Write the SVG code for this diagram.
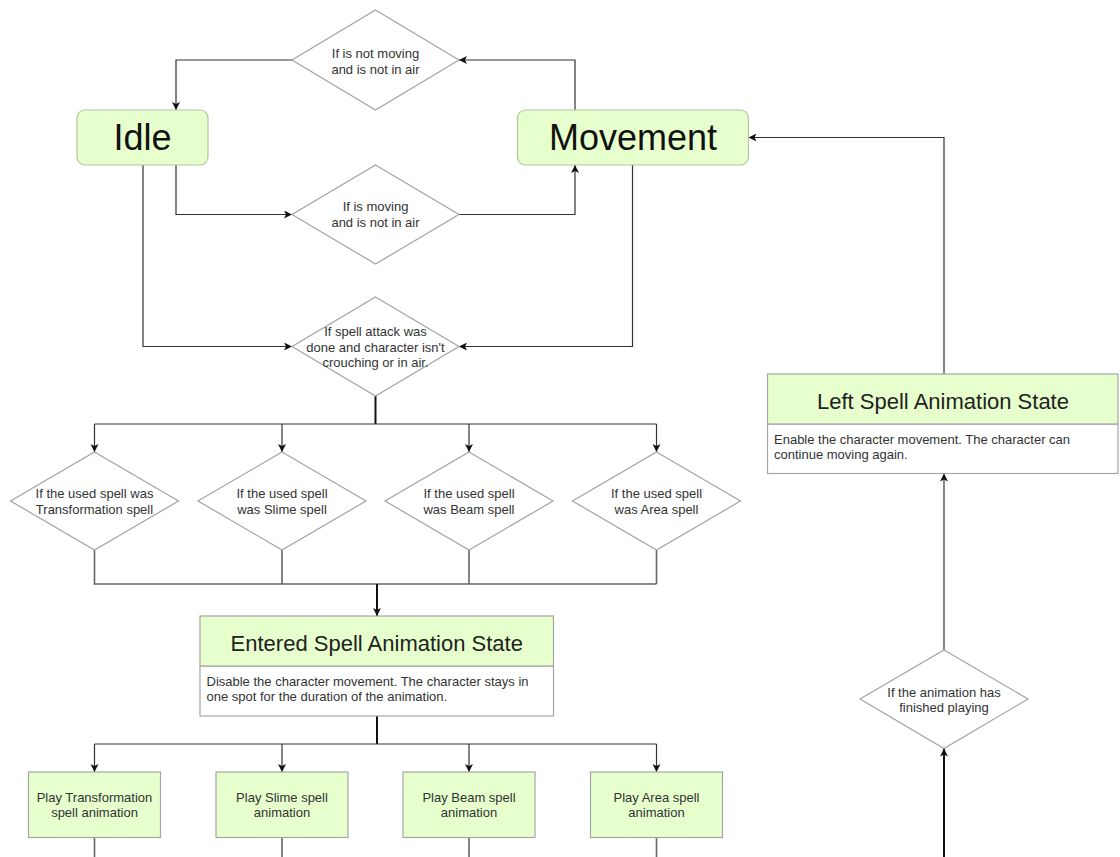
<svg xmlns="http://www.w3.org/2000/svg" width="1120" height="857" viewBox="0 0 1120 857">
  <style>
    .state { fill: #e6ffcc; stroke: #b3c4a3; stroke-width: 1.2; }
    .box { fill: #e6ffcc; stroke: #a6a6a6; stroke-width: 1.2; }
    .body { fill: #ffffff; stroke: #a6a6a6; stroke-width: 1.2; }
    .cond { fill: #ffffff; stroke: #a3a3a3; stroke-width: 1.2; }
    .big { font-family: "Liberation Sans", Arial, sans-serif; font-size: 36px; fill: #111; text-anchor: middle; }
    .head { font-family: "Liberation Sans", Arial, sans-serif; font-size: 22px; fill: #222; text-anchor: middle; }
    .small { font-family: "Liberation Sans", Arial, sans-serif; font-size: 13px; fill: #333; text-anchor: middle; }
    .note { font-family: "Liberation Sans", Arial, sans-serif; font-size: 13px; fill: #333; }
    .link { fill: none; stroke: #333; stroke-width: 1.2; }
    .stem { fill: none; stroke: #111; stroke-width: 2; }
    .merge { fill: none; stroke: #666; stroke-width: 1.6; }
  </style>
  <defs>
    <marker id="arrow" viewBox="0 0 8 8" markerWidth="8" markerHeight="8" refX="8" refY="4" orient="auto" markerUnits="userSpaceOnUse">
      <path d="M0,0 L8,4 L0,8 L2,4 z" fill="#111"/>
    </marker>
  </defs>
  <rect width="1120" height="857" fill="#ffffff"/>

  <!-- connectors -->
  <g id="connectors">
    <path class="link" d="M292,60 H176 V110" marker-end="url(#arrow)"/>
    <path class="link" d="M575,110 V60 H459" marker-end="url(#arrow)"/>
    <path class="link" d="M176,165 V214.5 H292" marker-end="url(#arrow)"/>
    <path class="link" d="M459,214.5 H575 V165" marker-end="url(#arrow)"/>
    <path class="link" d="M143,165 V346.5 H292" marker-end="url(#arrow)"/>
    <path class="link" d="M632.5,165 V346.5 H459" marker-end="url(#arrow)"/>

    <path class="stem" d="M375.5,396 V424"/>
    <path class="link" d="M94.5,424 H656.5"/>
    <path class="link" d="M94.5,424 V452" marker-end="url(#arrow)"/>
    <path class="link" d="M282,424 V452" marker-end="url(#arrow)"/>
    <path class="link" d="M469,424 V452" marker-end="url(#arrow)"/>
    <path class="link" d="M656.5,424 V452" marker-end="url(#arrow)"/>

    <path class="merge" d="M94.5,550 V584 H656.5"/>
    <path class="merge" d="M282,550 V584"/>
    <path class="merge" d="M469,550 V584"/>
    <path class="merge" d="M656.5,550 V584"/>
    <path class="stem" d="M377,584 V616" marker-end="url(#arrow)"/>

    <path class="stem" d="M377,716 V744"/>
    <path class="link" d="M94.5,744 H656.5"/>
    <path class="link" d="M94.5,744 V772" marker-end="url(#arrow)"/>
    <path class="link" d="M282,744 V772" marker-end="url(#arrow)"/>
    <path class="link" d="M469,744 V772" marker-end="url(#arrow)"/>
    <path class="link" d="M656.5,744 V772" marker-end="url(#arrow)"/>

    <path class="merge" d="M94.5,837.5 V857"/>
    <path class="merge" d="M282,837.5 V857"/>
    <path class="merge" d="M469,837.5 V857"/>
    <path class="merge" d="M656.5,837.5 V857"/>

    <path class="link" d="M944,374 V137.5 H748.5" marker-end="url(#arrow)"/>
    <path class="merge" d="M944,650 V473.5" marker-end="url(#arrow)"/>
    <path class="stem" d="M944,857 V748.5" marker-end="url(#arrow)"/>
  </g>

  <!-- states -->
  <g id="idle">
    <rect class="state" x="77" y="110" width="131" height="55" rx="8"/>
    <text class="big" x="142.5" y="150">Idle</text>
  </g>
  <g id="movement">
    <rect class="state" x="517.5" y="110" width="231" height="55" rx="8"/>
    <text class="big" x="633" y="150">Movement</text>
  </g>

  <!-- conditions -->
  <g id="cond-stop">
    <polygon class="cond" points="375.5,10 459,60 375.5,110 292,60"/>
    <text class="small" x="375.5" y="58">If is not moving</text>
    <text class="small" x="375.5" y="73.5">and is not in air</text>
  </g>
  <g id="cond-move">
    <polygon class="cond" points="375.5,165 459,214.5 375.5,264 292,214.5"/>
    <text class="small" x="375.5" y="211">If is moving</text>
    <text class="small" x="375.5" y="226.5">and is not in air</text>
  </g>
  <g id="cond-spell">
    <polygon class="cond" points="375.5,297 459,346.5 375.5,396 292,346.5"/>
    <text class="small" x="375.5" y="336">If spell attack was</text>
    <text class="small" x="375.5" y="351.5">done and character isn't</text>
    <text class="small" x="375.5" y="367">crouching or in air.</text>
  </g>

  <g id="cond-transformation">
    <polygon class="cond" points="94.5,452 178.5,501 94.5,550 10.5,501"/>
    <text class="small" x="94.5" y="498">If the used spell was</text>
    <text class="small" x="94.5" y="514">Transformation spell</text>
  </g>
  <g id="cond-slime">
    <polygon class="cond" points="282,452 366,501 282,550 198,501"/>
    <text class="small" x="282" y="498">If the used spell</text>
    <text class="small" x="282" y="514">was Slime spell</text>
  </g>
  <g id="cond-beam">
    <polygon class="cond" points="469,452 553,501 469,550 385,501"/>
    <text class="small" x="469" y="498">If the used spell</text>
    <text class="small" x="469" y="514">was Beam spell</text>
  </g>
  <g id="cond-area">
    <polygon class="cond" points="656.5,452 740.5,501 656.5,550 572.5,501"/>
    <text class="small" x="656.5" y="498">If the used spell</text>
    <text class="small" x="656.5" y="514">was Area spell</text>
  </g>

  <!-- entered spell animation state -->
  <g id="entered-spell">
    <rect class="body" x="200" y="666" width="353.5" height="50"/>
    <rect class="box" x="200" y="616" width="353.5" height="50"/>
    <text class="head" x="376.75" y="651">Entered Spell Animation State</text>
    <text class="note" x="206.5" y="686">Disable the character movement. The character stays in</text>
    <text class="note" x="206.5" y="701">one spot for the duration of the animation.</text>
  </g>

  <!-- animations -->
  <g id="play-transformation">
    <rect class="box" x="28.5" y="772" width="132" height="65.5"/>
    <text class="small" x="94.5" y="802">Play Transformation</text>
    <text class="small" x="94.5" y="817">spell animation</text>
  </g>
  <g id="play-slime">
    <rect class="box" x="216" y="772" width="132" height="65.5"/>
    <text class="small" x="282" y="802">Play Slime spell</text>
    <text class="small" x="282" y="817">animation</text>
  </g>
  <g id="play-beam">
    <rect class="box" x="403" y="772" width="132" height="65.5"/>
    <text class="small" x="469" y="802">Play Beam spell</text>
    <text class="small" x="469" y="817">animation</text>
  </g>
  <g id="play-area">
    <rect class="box" x="590.5" y="772" width="132" height="65.5"/>
    <text class="small" x="656.5" y="802">Play Area spell</text>
    <text class="small" x="656.5" y="817">animation</text>
  </g>

  <!-- left spell animation state -->
  <g id="left-spell">
    <rect class="body" x="767.5" y="424" width="350.5" height="49.5"/>
    <rect class="box" x="767.5" y="374" width="350.5" height="50"/>
    <text class="head" x="943" y="409">Left Spell Animation State</text>
    <text class="note" x="774" y="443.5">Enable the character movement. The character can</text>
    <text class="note" x="774" y="459">continue moving again.</text>
  </g>
  <g id="cond-finished">
    <polygon class="cond" points="944,650 1028,699 944,748.5 860,699"/>
    <text class="small" x="944" y="697">If the animation has</text>
    <text class="small" x="944" y="712">finished playing</text>
  </g>
</svg>
